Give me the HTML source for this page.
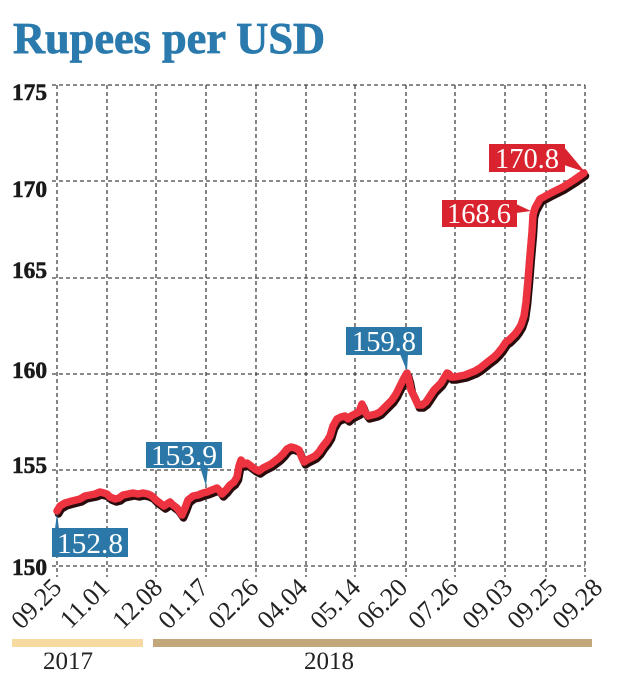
<!DOCTYPE html>
<html><head><meta charset="utf-8"><style>
html,body{margin:0;padding:0;background:#fff;}
svg{display:block;}
</style></head><body>
<svg width="620" height="686" viewBox="0 0 620 686" xmlns="http://www.w3.org/2000/svg">
<rect width="620" height="686" fill="#fff"/>
<text x="13" y="53" font-family="Liberation Serif, serif" font-weight="bold" font-size="44" fill="#2a7aad" stroke="#2a7aad" stroke-width="0.8" textLength="312" lengthAdjust="spacingAndGlyphs">Rupees per USD</text>

<g stroke="#444" stroke-width="1.3" stroke-dasharray="4,3" fill="none">
<line x1="52" y1="85" x2="585" y2="85"/>
<line x1="52" y1="181" x2="585" y2="181"/>
<line x1="52" y1="278" x2="585" y2="278"/>
<line x1="52" y1="374" x2="585" y2="374"/>
<line x1="52" y1="470" x2="585" y2="470"/>
<line x1="52" y1="566" x2="585" y2="566"/>
<line x1="57" y1="85" x2="57" y2="577"/>
<line x1="107" y1="85" x2="107" y2="577"/>
<line x1="156" y1="85" x2="156" y2="577"/>
<line x1="206" y1="85" x2="206" y2="577"/>
<line x1="256" y1="85" x2="256" y2="577"/>
<line x1="306" y1="85" x2="306" y2="577"/>
<line x1="355" y1="85" x2="355" y2="577"/>
<line x1="406" y1="85" x2="406" y2="577"/>
<line x1="455" y1="85" x2="455" y2="577"/>
<line x1="505" y1="85" x2="505" y2="577"/>
<line x1="546" y1="85" x2="546" y2="577"/>
<line x1="585" y1="85" x2="585" y2="577"/>
</g>

<g font-family="Liberation Serif, serif" font-weight="bold" font-size="23" fill="#1a1a1a" stroke="#1a1a1a" stroke-width="0.6" text-anchor="end">
<text x="47" y="100" textLength="35" lengthAdjust="spacingAndGlyphs">175</text>
<text x="47" y="197" textLength="35" lengthAdjust="spacingAndGlyphs">170</text>
<text x="47" y="278" textLength="35" lengthAdjust="spacingAndGlyphs">165</text>
<text x="47" y="378" textLength="35" lengthAdjust="spacingAndGlyphs">160</text>
<text x="47" y="473" textLength="35" lengthAdjust="spacingAndGlyphs">155</text>
<text x="47" y="575" textLength="35" lengthAdjust="spacingAndGlyphs">150</text>
</g>

<g font-family="Liberation Serif, serif" font-size="26" fill="#222" text-anchor="end">
<text transform="translate(63,589) rotate(-45)">09.25</text>
<text transform="translate(111,589) rotate(-45)">11.01</text>
<text transform="translate(164,589) rotate(-45)">12.08</text>
<text transform="translate(210,589) rotate(-45)">01.17</text>
<text transform="translate(260,589) rotate(-45)">02.26</text>
<text transform="translate(309,589) rotate(-45)">04.04</text>
<text transform="translate(362,589) rotate(-45)">05.14</text>
<text transform="translate(409,589) rotate(-45)">06.20</text>
<text transform="translate(460,589) rotate(-45)">07.26</text>
<text transform="translate(514,589) rotate(-45)">09.03</text>
<text transform="translate(559,589) rotate(-45)">09.25</text>
<text transform="translate(604,589) rotate(-45)">09.28</text>
</g>

<rect x="12" y="639" width="131" height="8" fill="#f7d9a2"/>
<rect x="153" y="639" width="439" height="8" fill="#c2a77a"/>
<g font-family="Liberation Serif, serif" font-size="25" fill="#222">
<text x="43" y="669">2017</text>
<text x="304" y="669">2018</text>
</g>

<g fill="none" stroke-linejoin="round" stroke-linecap="round">
<polyline stroke="#2a0c0c" stroke-width="7.5" transform="translate(1.5,3)" points="57,511 60,506 65,503 72,501 80,499 85,496 90,495 95,494 100,492 104,493 107,494 110,497 115,499 119,498 123,495 128,494 133,493 138,494 143,493 148,494 152,496 156,500 160,503 164,506 167,504 170,502 173,505 177,508 180,512 182,515 185,508 188,500 193,496 198,495 203,493 207,492 212,490 217,488 220,491 222,494 226,490 230,485 234,482 237,477 239,466 241,460 244,464 247,463 251,466 255,469 259,471 263,468 267,466 271,464 275,461 279,458 283,454 287,449 291,447 295,448 299,450 302,458 304,462 307,460 311,458 315,456 319,452 323,446 327,441 330,436 333,426 337,419 341,417 345,416 348,419 351,416 355,414 359,412 362,404 365,412 368,416 372,415 376,414 380,412 384,408 388,404 392,400 396,394 400,386 404,378 407,373 409,380 411,390 414,396 418,405 422,405 426,402 430,396 434,390 437,387 441,383 444,378 447,373 449,374 451,377 455,377 460,376 465,375 470,373 475,371 480,368 485,364 490,360 494,357 498,353 502,348 506,342 509,340 512,337 515,334 518,330 521,325 524,316 526,302 528,280 530,255 532,232 533,215 535,208 540,199 551,193 563,187 574,180 584,173"/>
<polyline stroke="#ee3340" stroke-width="7.5" points="57,511 60,506 65,503 72,501 80,499 85,496 90,495 95,494 100,492 104,493 107,494 110,497 115,499 119,498 123,495 128,494 133,493 138,494 143,493 148,494 152,496 156,500 160,503 164,506 167,504 170,502 173,505 177,508 180,512 182,515 185,508 188,500 193,496 198,495 203,493 207,492 212,490 217,488 220,491 222,494 226,490 230,485 234,482 237,477 239,466 241,460 244,464 247,463 251,466 255,469 259,471 263,468 267,466 271,464 275,461 279,458 283,454 287,449 291,447 295,448 299,450 302,458 304,462 307,460 311,458 315,456 319,452 323,446 327,441 330,436 333,426 337,419 341,417 345,416 348,419 351,416 355,414 359,412 362,404 365,412 368,416 372,415 376,414 380,412 384,408 388,404 392,400 396,394 400,386 404,378 407,373 409,380 411,390 414,396 418,405 422,405 426,402 430,396 434,390 437,387 441,383 444,378 447,373 449,374 451,377 455,377 460,376 465,375 470,373 475,371 480,368 485,364 490,360 494,357 498,353 502,348 506,342 509,340 512,337 515,334 518,330 521,325 524,316 526,302 528,280 530,255 532,232 533,215 535,208 540,199 551,193 563,187 574,180 584,173"/>
</g>

<g font-family="Liberation Serif, serif" font-size="28" fill="#fff" text-anchor="middle">
<polygon points="55,529 59,529 57,513" fill="#2b78a8"/>
<rect x="52" y="528" width="76" height="29" fill="#2b78a8"/>
<text x="90" y="553" textLength="66" lengthAdjust="spacingAndGlyphs">152.8</text>

<polygon points="200,467 208,467 206,486" fill="#2b78a8"/>
<rect x="146" y="442" width="76" height="26" fill="#2b78a8"/>
<text x="184" y="465" textLength="66" lengthAdjust="spacingAndGlyphs">153.9</text>

<polygon points="400,354 408,354 407,371" fill="#2b78a8"/>
<rect x="346" y="327" width="76" height="28" fill="#2b78a8"/>
<text x="384" y="351" textLength="64" lengthAdjust="spacingAndGlyphs">159.8</text>

<polygon points="564,147 564,165 585,172" fill="#d9232e"/>
<rect x="489" y="144" width="76" height="28" fill="#d9232e"/>
<text x="527" y="168" textLength="64" lengthAdjust="spacingAndGlyphs">170.8</text>

<polygon points="516,204 516,213 531,211" fill="#d9232e"/>
<rect x="442" y="200" width="75" height="27" fill="#d9232e"/>
<text x="479" y="223" textLength="64" lengthAdjust="spacingAndGlyphs">168.6</text>
</g>
</svg>
</body></html>
